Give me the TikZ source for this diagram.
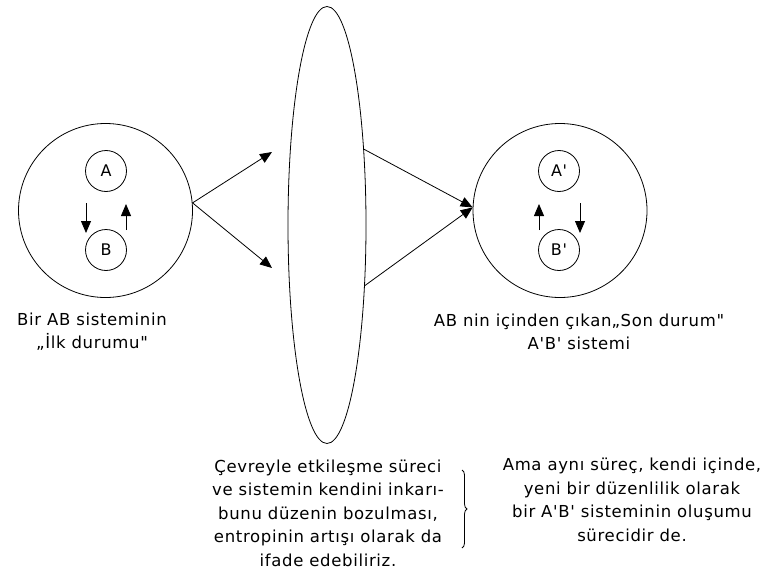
\documentclass[tikz,border=0pt]{standalone}
\usepackage{fontspec}
\newfontfamily\plainsans[LetterSpace=4]{DejaVu Sans}
\usetikzlibrary{shapes.geometric,arrows.meta,decorations.pathreplacing}
\tikzset{
  big/.style={draw,circle,minimum size=174pt,inner sep=0pt},
  small/.style={draw,circle,minimum size=41pt,inner sep=0pt,font=\plainsans\fontsize{16}{16}\selectfont},
  arr/.style={-{Triangle[length=12pt,width=10pt]}},
  txt/.style={align=center,font=\plainsans\fontsize{16.5}{23.5}\selectfont}
}
\begin{document}
\begin{tikzpicture}[x=1pt,y=-1pt,line width=0.8pt]
\useasboundingbox (0,0) rectangle (771,586);
%\draw[step=50,gray,very thin] (0,0) grid (771,586);
% left system
\node[big] (ab) at (105.5,210.5) {};
\node[small] (a) at (106,171) {A};
\node[small] (b) at (106,250) {B};
\draw[arr] (86,203) -- (86,233);
\draw[arr] (126,230) -- (126,204);
\node[txt] (ilk) at (92,331.5) {Bir AB sisteminin\\„İlk durumu"};
% ellipse
\node[draw,ellipse,minimum width=78pt,minimum height=437pt,inner sep=0pt] (ell) at (327,225) {};
\coordinate (up) at (272,152);
\coordinate (down) at (272,268);
\draw[arr] (ab.5) -- (up);
\draw[arr] (ab.5) -- (down);
% right system
\node[big] (apbp) at (560,210.5) {};
\node[small] (ap) at (559,171) {A'};
\node[small] (bp) at (559,250) {B'};
\draw[arr] (539,230) -- (539,204);
\draw[arr] (580,203) -- (580,233);
\node[txt] (son) at (579,332) {AB nin içinden çıkan„Son durum"\\A'B' sistemi};
\draw[arr] (ell.64) -- (apbp.178);
\draw[arr] (ell.-58) -- (apbp.178);
% texts below
\node[txt] (sol) at (328,513) {Çevreyle etkileşme süreci\\ve sistemin kendini inkarı-\\bunu düzenin bozulması,\\entropinin artışı olarak da\\ifade edebiliriz.};
\draw[decorate,decoration={brace,amplitude=5pt}] (462,470) -- (462,548);
\node[txt] (sag) at (632,500) {Ama aynı süreç, kendi içinde,\\yeni bir düzenlilik olarak\\bir A'B' sisteminin oluşumu\\sürecidir de.};
\end{tikzpicture}
\end{document}
